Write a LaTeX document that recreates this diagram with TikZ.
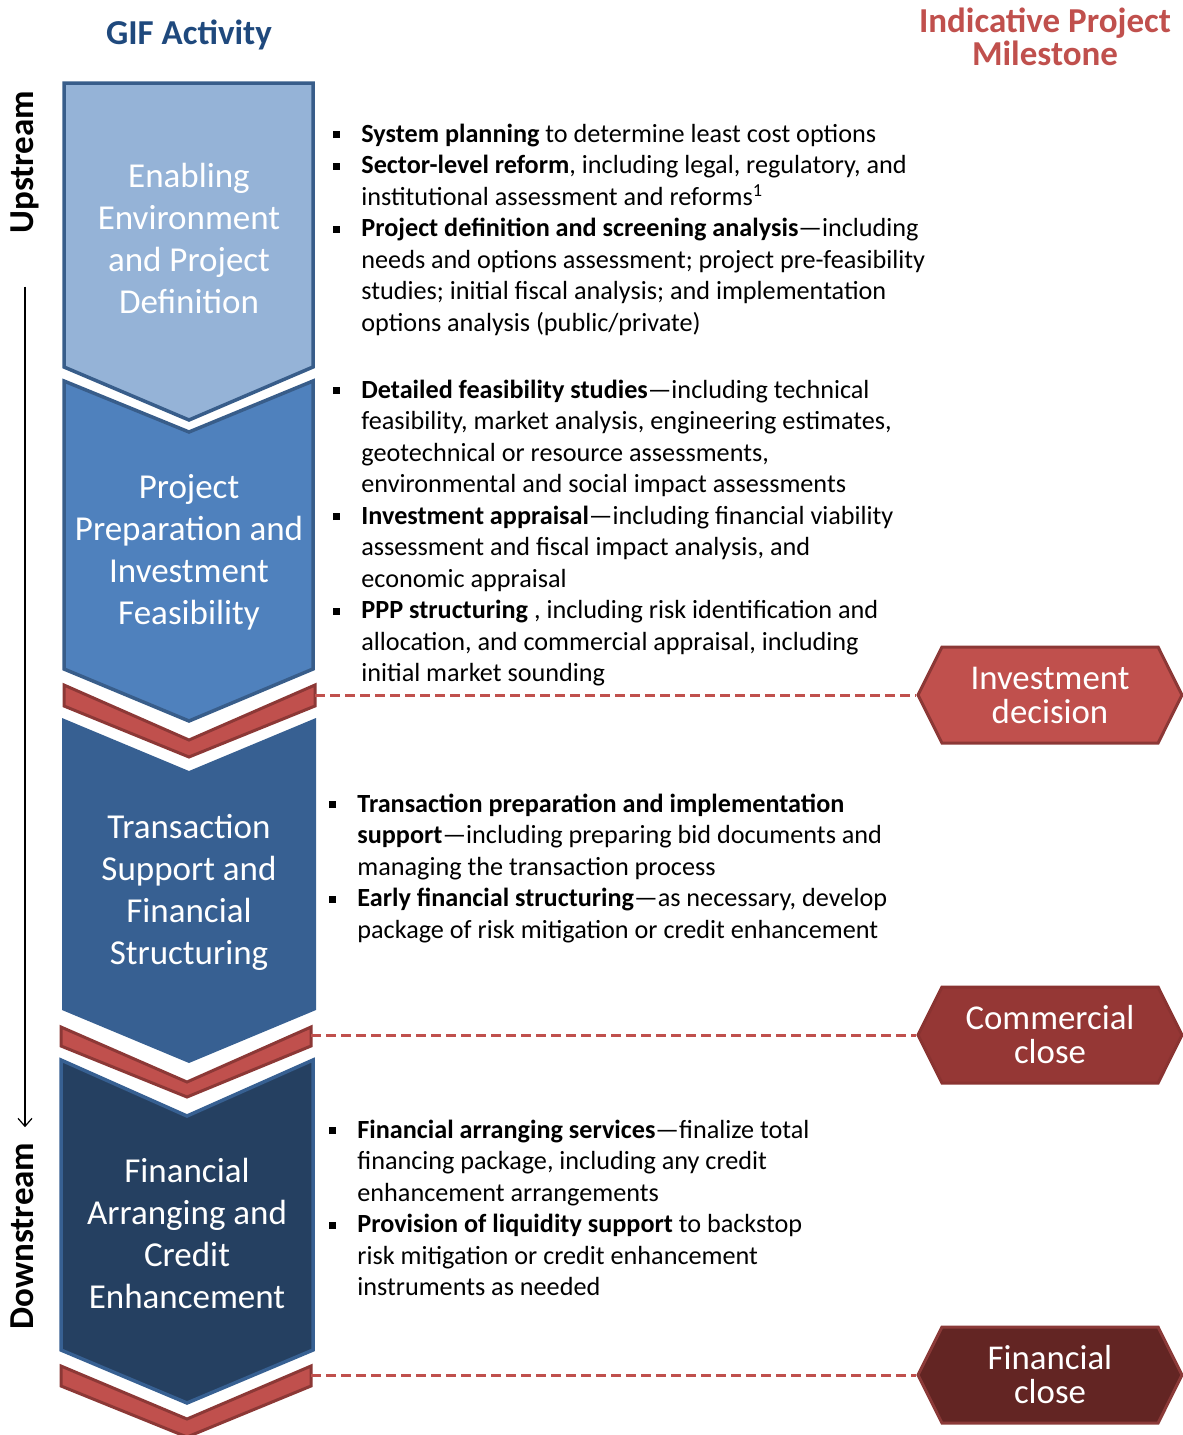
\documentclass[tikz,border=0pt]{standalone}
\usepackage{fontspec}
\setmainfont{Carlito}
\usetikzlibrary{shapes.symbols,arrows.meta}

\definecolor{gifblue}{HTML}{1F497D}
\definecolor{msred}{HTML}{C0504D}
\definecolor{chevA}{HTML}{95B3D7}
\definecolor{chevB}{HTML}{4F81BD}
\definecolor{chevC}{HTML}{376092}
\definecolor{chevD}{HTML}{254061}
\definecolor{chevline}{HTML}{385D8A}
\definecolor{stripline}{HTML}{8C3836}
\definecolor{msfillB}{HTML}{953735}
\definecolor{msfillC}{HTML}{632523}
\definecolor{mslineA}{HTML}{8C3836}
\definecolor{mslineB}{HTML}{8A3331}
\definecolor{mslineC}{HTML}{8B3A38}

\newcommand{\blt}{\raisebox{2pt}{\rule{3.5pt}{3.5pt}}}

\begin{document}
\begin{tikzpicture}[x=0.5pt,y=-0.5pt]
    \tikzstyle{every node}+=[inner sep=0pt]
    \tikzstyle{chevtext}=[text=white, align=center, font=\fontsize{17.5}{21}\selectfont]
    \tikzstyle{bullets}=[anchor=base west, font=\fontsize{13.1}{15.75}\selectfont]
    \tikzstyle{strip}=[fill=msred, draw=stripline, line width=1.5pt, line join=miter]
    \tikzstyle{milestone}=[shape=signal, signal to=west and east, signal pointer angle=127,
        minimum width=132pt, minimum height=48pt, text=white, align=center,
        font=\fontsize{17.4}{17}\selectfont, line width=1.5pt]
    \tikzstyle{msline}=[draw=msred, line width=1.5pt, dash pattern=on 5pt off 2.5pt]
    \useasboundingbox (0,0) rectangle (1183,1435);
    \clip (0,0) rectangle (1183,1435);
    % headings
    \node [text=gifblue, font=\fontsize{17.5}{17.5}\selectfont\bfseries] (gif) at (189,35) {GIF Activity};
    \node [text=msred, align=center, font=\fontsize{17.5}{16.5}\selectfont\bfseries] (ind) at (1045,37) {Indicative Project\\Milestone};
    \node [rotate=90, font=\fontsize{17.5}{17.5}\selectfont\bfseries] (up) at (25,162) {Upstream};
    \node [rotate=90, font=\fontsize{17.5}{17.5}\selectfont\bfseries] (down) at (22,1236) {Downstream};
    \draw [black, line width=0.6pt, -{Straight Barb[length=4pt,width=7pt]}, shorten <=26.5pt, shorten >=7.5pt] (up.west) -- (up.west |- down.east);
    % chevrons
    \draw [fill=chevA, draw=chevline, line width=1.75pt, line join=miter] (64,83) -- (313,83) -- (313,367) -- (189,420) -- (64,367) -- cycle;
    \draw [fill=chevB, draw=chevline, line width=1.75pt, line join=miter] (64,381) -- (189,432) -- (313,381) -- (313,669) -- (189,721) -- (64,669) -- cycle;
    \draw [strip] (64,685) -- (189,740) -- (315,685) -- (315,706) -- (189,757) -- (64,706) -- cycle;
    \fill [chevC] (62,718) -- (189,771) -- (316,718) -- (316,1010) -- (189,1063) -- (62,1010) -- cycle;
    \draw [strip] (61,1027) -- (187,1082) -- (311,1027) -- (311,1046) -- (187,1097) -- (61,1046) -- cycle;
    \draw [fill=chevD, draw=chevC, line width=1.75pt, line join=miter] (61,1060) -- (187,1116) -- (313,1060) -- (313,1350) -- (187,1403) -- (61,1350) -- cycle;
    \draw [strip] (61,1366) -- (187,1419) -- (311,1366) -- (311,1386) -- (187,1437) -- (61,1386) -- cycle;
    \coordinate (r1) at (315,695);
    \coordinate (r2) at (311,1035);
    \coordinate (r3) at (311,1375);
    \node [chevtext] (c1) at (189,238) {Enabling\\Environment\\and Project\\Definition};
    \node [chevtext] (c2) at (189,552) {Project\\Preparation and\\Investment\\Feasibility};
    \node [chevtext] (c3) at (189,892) {Transaction\\Support and\\Financial\\Structuring};
    \node [chevtext] (c4) at (187,1233) {Financial\\Arranging and\\Credit\\Enhancement};
    % activities
    \node [bullets] (b1) at (333,142) {\begin{tabular}[t]{@{}p{14pt}@{}l@{}}
        \blt & \textbf{System planning} to determine least cost options\\
        \blt & \textbf{Sector-level reform}, including legal, regulatory, and\\
             & institutional assessment and reforms\textsuperscript{1}\\
        \blt & \textbf{Project definition and screening analysis}—including\\
             & needs and options assessment; project pre-feasibility\\
             & studies; initial fiscal analysis; and implementation\\
             & options analysis (public/private)
        \end{tabular}};
    \node [bullets] (b2) at (333,398) {\begin{tabular}[t]{@{}p{14pt}@{}l@{}}
        \blt & \textbf{Detailed feasibility studies}—including technical\\
             & feasibility, market analysis, engineering estimates,\\
             & geotechnical or resource assessments,\\
             & environmental and social impact assessments\\
        \blt & \textbf{Investment appraisal}—including financial viability\\
             & assessment and fiscal impact analysis, and\\
             & economic appraisal\\
        \blt & \textbf{PPP structuring} , including risk identification and\\
             & allocation, and commercial appraisal, including\\
             & initial market sounding
        \end{tabular}};
    \node [bullets] (b3) at (329,812) {\begin{tabular}[t]{@{}p{14pt}@{}l@{}}
        \blt & \textbf{Transaction preparation and implementation}\\
             & \textbf{support}—including preparing bid documents and\\
             & managing the transaction process\\
        \blt & \textbf{Early financial structuring}—as necessary, develop\\
             & package of risk mitigation or credit enhancement
        \end{tabular}};
    \node [bullets] (b4) at (329,1138) {\begin{tabular}[t]{@{}p{14pt}@{}l@{}}
        \blt & \textbf{Financial arranging services}—finalize total\\
             & financing package, including any credit\\
             & enhancement arrangements\\
        \blt & \textbf{Provision of liquidity support} to backstop\\
             & risk mitigation or credit enhancement\\
             & instruments as needed
        \end{tabular}};
    % milestones
    \node [milestone, fill=msred, draw=mslineA] (ms1) at (1050,695) {Investment\\decision};
    \node [milestone, fill=msfillB, draw=mslineB] (ms2) at (1050,1035) {Commercial\\close};
    \node [milestone, fill=msfillC, draw=mslineC] (ms3) at (1050,1375) {Financial\\close};
    \draw [msline] (r1) -- (ms1.west);
    \draw [msline] (r2) -- (ms2.west);
    \draw [msline] (r3) -- (ms3.west);
\end{tikzpicture}
\end{document}
